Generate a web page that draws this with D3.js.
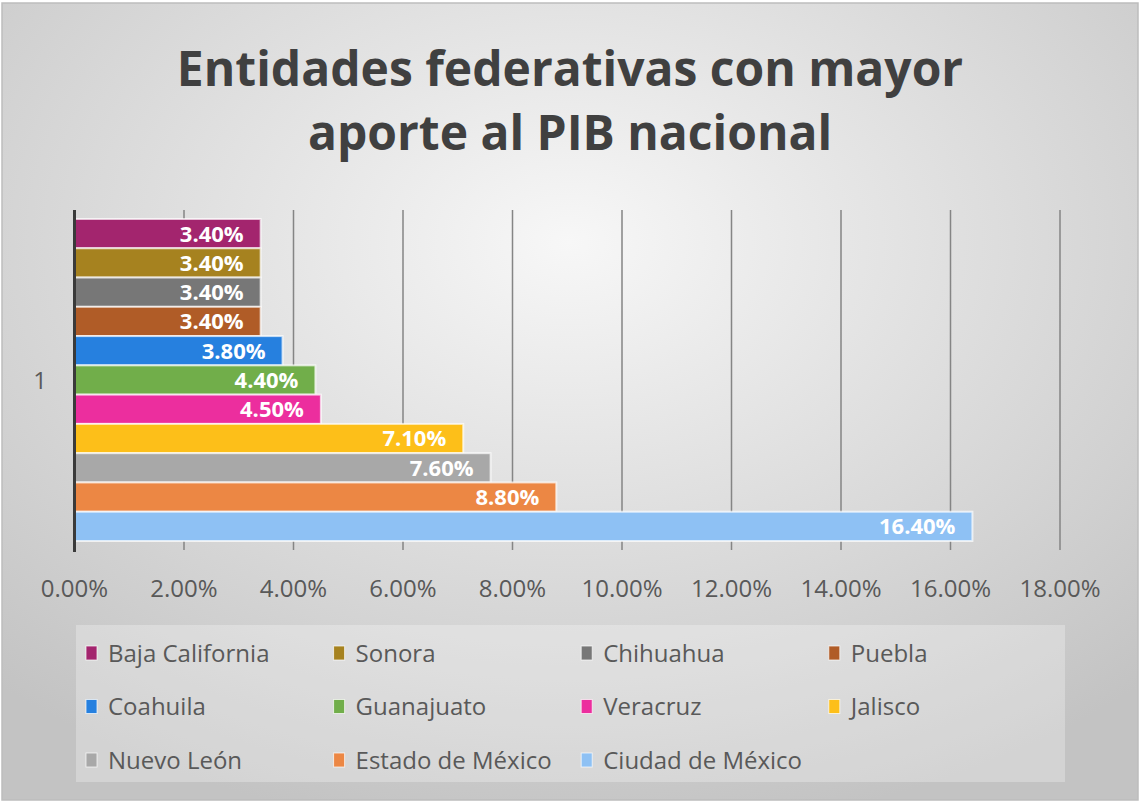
<!DOCTYPE html>
<html>
<head>
<meta charset="utf-8">
<script src="https://cdn.jsdelivr.net/npm/d3@7"></script>
<style>
  body { margin: 0; background: #fff; }
  text { font-family: "Open Sans", sans-serif; }
</style>
</head>
<body>
<svg id="chart"></svg>
<script>
const width = 1140;
const height = 802;

// data, top bar first
const states = ["Baja California", "Sonora", "Chihuahua", "Puebla", "Coahuila", "Guanajuato",
  "Veracruz", "Jalisco", "Nuevo León", "Estado de México", "Ciudad de México"];
const shares = [3.4, 3.4, 3.4, 3.4, 3.8, 4.4, 4.5, 7.1, 7.6, 8.8, 16.4];
const colors = ["#a3256e", "#a6821f", "#777777", "#b05c27", "#2680df", "#71ae4a",
  "#ec2e9e", "#fdbf19", "#a8a8a8", "#ec8744", "#8ec1f4"];
const xTicks = [0, 2, 4, 6, 8, 10, 12, 14, 16, 18];
const titleLines = ["Entidades federativas con mayor", "aporte al PIB nacional"];

const rows = states.map((s, i) => ({ state: s, value: shares[i], color: colors[i] }));

const svg = d3.select('#chart')
  .attr('width', width)
  .attr('height', height);

// background
const grad = svg.append('defs').append('radialGradient')
  .attr('id', 'bg')
  .attr('cx', '50%').attr('cy', '30%').attr('r', '75%');
grad.append('stop').attr('offset', '0%').attr('stop-color', '#f7f7f7');
grad.append('stop').attr('offset', '100%').attr('stop-color', '#c3c3c3');

svg.append('rect')
  .attr('x', 0).attr('y', 0)
  .attr('width', width).attr('height', height)
  .attr('fill', '#ffffff');
svg.append('rect')
  .attr('x', 2).attr('y', 3)
  .attr('width', width - 4).attr('height', height - 5)
  .attr('fill', 'url(#bg)')
  .attr('stroke', '#bdbdbd')
  .attr('stroke-width', 1.5);

// title
svg.append('g')
  .selectAll('text')
  .data(titleLines)
  .enter().append('text')
  .attr('x', 570)
  .attr('y', (d, i) => 86 + i * 64)
  .attr('text-anchor', 'middle')
  .attr('font-size', '48px')
  .attr('font-weight', 'bold')
  .attr('fill', '#404040')
  .text(d => d);

// scales
const x = d3.scaleLinear()
  .domain([0, 18])
  .range([74.5, 1060]);

const y = d3.scaleBand()
  .domain(states)
  .range([219, 541])
  .padding(0);

const plotTop = 210, plotBottom = 550;

// gridlines
svg.append('g')
  .selectAll('line')
  .data(xTicks.filter(d => d > 0))
  .enter().append('line')
  .attr('x1', d => x(d)).attr('x2', d => x(d))
  .attr('y1', plotTop).attr('y2', plotBottom)
  .attr('stroke', '#858585')
  .attr('stroke-width', 1.5);

// bars
svg.append('g')
  .selectAll('rect')
  .data(rows)
  .enter().append('rect')
  .attr('x', x(0))
  .attr('y', d => y(d.state))
  .attr('width', d => x(d.value) - x(0))
  .attr('height', y.bandwidth())
  .attr('fill', d => d.color)
  .attr('stroke', 'rgba(255,255,255,0.7)')
  .attr('stroke-width', 2);

// data labels
svg.append('g')
  .selectAll('text')
  .data(rows)
  .enter().append('text')
  .attr('x', d => x(d.value) - 17)
  .attr('y', d => y(d.state) + y.bandwidth() / 2)
  .attr('dy', '0.36em')
  .attr('text-anchor', 'end')
  .attr('font-size', '22px')
  .attr('font-weight', 'bold')
  .attr('fill', '#ffffff')
  .text(d => d3.format('.2f')(d.value) + '%');

// axis line
svg.append('line')
  .attr('x1', x(0)).attr('x2', x(0))
  .attr('y1', plotTop).attr('y2', plotBottom + 2)
  .attr('stroke', '#3a3a3a')
  .attr('stroke-width', 3);

// x tick labels
svg.append('g')
  .selectAll('text')
  .data(xTicks)
  .enter().append('text')
  .attr('x', d => x(d))
  .attr('y', 588)
  .attr('dy', '0.36em')
  .attr('text-anchor', 'middle')
  .attr('font-size', '24px')
  .attr('fill', '#595959')
  .text(d => d3.format('.2f')(d) + '%');

// category label
svg.append('text')
  .attr('x', 40)
  .attr('y', (plotTop + plotBottom) / 2)
  .attr('dy', '0.36em')
  .attr('text-anchor', 'middle')
  .attr('font-size', '24px')
  .attr('fill', '#595959')
  .text('1');

// LEGEND
const LEGEND_COLS = 4;
const LEGEND_H_SPACING = 247.6;
const LEGEND_V_SPACING = 53.5;

const legend = svg.append('g').attr('id', 'legend');

legend.append('rect')
  .attr('x', 76).attr('y', 625)
  .attr('width', 989).attr('height', 157)
  .attr('fill', 'rgba(255,255,255,0.28)');

const legendElem = legend.selectAll('g')
  .data(rows)
  .enter().append('g')
  .attr('transform', (d, i) =>
    'translate(' + (86 + (i % LEGEND_COLS) * LEGEND_H_SPACING) + ',' +
    (653 + Math.floor(i / LEGEND_COLS) * LEGEND_V_SPACING) + ')');

legendElem.append('rect')
  .attr('x', 0).attr('y', -7)
  .attr('width', 11).attr('height', 14)
  .attr('fill', d => d.color)
  .attr('stroke', 'rgba(255,255,255,0.7)')
  .attr('stroke-width', 1);

legendElem.append('text')
  .attr('x', 22)
  .attr('y', 0)
  .attr('dy', '0.36em')
  .attr('font-size', '24px')
  .attr('fill', '#595959')
  .text(d => d.state);
</script>
</body>
</html>
